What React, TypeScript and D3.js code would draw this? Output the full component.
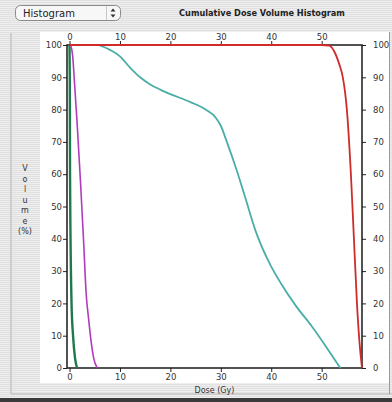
import React, { useEffect, useRef } from 'react';
import * as d3 from 'd3';

// dose (Gy) / volume (%) pairs, one pair of arrays per structure
const greenDose = [0, 0.05, 0.1, 0.2, 0.4, 0.7, 1.1, 1.5];
const greenVol = [100, 90, 60, 40, 20, 10, 3, 0];

const magentaDose = [0.2, 0.6, 1.0, 1.5, 2.2, 2.8, 3.3, 3.8, 4.3, 4.8, 5.5];
const magentaVol = [100, 97, 88, 76, 57, 39, 23, 15, 8, 3, 0];

const tealDose = [5.7, 8, 10, 12, 14, 16, 18, 20, 24, 27, 29, 30, 31.2, 33.2, 34.8, 37, 39.8, 42, 45, 48, 50.7, 53.7];
const tealVol = [100, 98.5, 96.5, 93, 90, 87.8, 86.2, 84.8, 82.3, 80, 77.5, 75, 70, 61, 53, 42, 32, 26, 19, 13, 7, 0];

const redDose = [0, 50, 51.5, 52.5, 53.5, 54.2, 55, 55.8, 56.4, 57, 57.5, 58];
const redVol = [100, 100, 99.8, 98, 94, 90, 80, 60, 40, 20, 8, 0];

const doseTicks = [0, 10, 20, 30, 40, 50];
const volumeTicks = [0, 10, 20, 30, 40, 50, 60, 70, 80, 90, 100];
const yLabelLetters = ['V', 'o', 'l', 'u', 'm', 'e', '(%)'];

const series = [
  { dose: greenDose, vol: greenVol, color: '#1e7a4c', width: 2.4 },
  { dose: magentaDose, vol: magentaVol, color: '#b03cbc', width: 1.6 },
  { dose: tealDose, vol: tealVol, color: '#4aaea6', width: 1.8 },
  { dose: redDose, vol: redVol, color: '#cf2b2b', width: 1.8 },
];

const W = 392;
const H = 402;
const plot = { left: 67, right: 362, top: 45, bottom: 368 };
const font = '"DejaVu Sans", Verdana, sans-serif';

export default function App() {
  const ref = useRef<SVGSVGElement | null>(null);

  useEffect(() => {
    if (!ref.current) return;
    const svg = d3.select(ref.current);
    svg.selectAll('*').remove();

    // pinstripe background
    const defs = svg.append('defs');
    const pat = defs.append('pattern')
      .attr('id', 'stripes')
      .attr('width', 4)
      .attr('height', 2)
      .attr('patternUnits', 'userSpaceOnUse');
    pat.append('rect').attr('width', 4).attr('height', 2).attr('fill', '#eeeeee');
    pat.append('rect').attr('width', 4).attr('height', 1).attr('fill', '#e0e0e0');

    svg.append('rect').attr('width', W).attr('height', H).attr('fill', 'url(#stripes)');

    // frame lines
    svg.append('path')
      .attr('d', `M11,33 V394 H${W}`)
      .attr('fill', 'none')
      .attr('stroke', '#b4b4b4');
    svg.append('rect').attr('x', 0).attr('y', 398).attr('width', W).attr('height', 4).attr('fill', '#3a3a3a');

    // white chart panel
    svg.append('rect')
      .attr('x', 40).attr('y', 32).attr('width', 349).attr('height', 351)
      .attr('fill', '#ffffff');
    svg.append('line')
      .attr('x1', 389.5).attr('x2', 389.5).attr('y1', 32).attr('y2', 394)
      .attr('stroke', '#9a9a9a');

    // header: popup button + title
    const btn = svg.append('g');
    btn.append('rect')
      .attr('x', 15.5).attr('y', 5.5).attr('width', 105).attr('height', 15).attr('rx', 5)
      .attr('fill', '#f7f7f7').attr('stroke', '#8a8a8a');
    btn.append('line')
      .attr('x1', 106.5).attr('x2', 106.5).attr('y1', 6).attr('y2', 20)
      .attr('stroke', '#c8c8c8');
    btn.append('text')
      .attr('x', 23).attr('y', 17)
      .attr('font-family', font).attr('font-size', 10).attr('fill', '#222')
      .text('Histogram');
    btn.append('path').attr('d', 'M110.5,11.5 l2.5,-3 l2.5,3 z').attr('fill', '#333');
    btn.append('path').attr('d', 'M110.5,14.5 l2.5,3 l2.5,-3 z').attr('fill', '#333');

    svg.append('text')
      .attr('x', 262).attr('y', 16)
      .attr('text-anchor', 'middle')
      .attr('font-family', font).attr('font-size', 8.2).attr('font-weight', 'bold').attr('fill', '#222')
      .text('Cumulative Dose Volume Histogram');

    const x = d3.scaleLinear().domain([-0.5, 58]).range([plot.left, plot.right]);
    const y = d3.scaleLinear().domain([0, 100]).range([plot.bottom, plot.top]);

    const styleAxis = (g: d3.Selection<SVGGElement, unknown, null, undefined>) => {
      g.select('.domain').remove();
      g.selectAll('line').attr('stroke', '#222');
      g.selectAll('text')
        .attr('font-family', font)
        .attr('font-size', 8.5)
        .attr('fill', '#333');
    };

    svg.append('g')
      .attr('transform', `translate(0,${plot.bottom})`)
      .call(d3.axisBottom(x).tickValues(doseTicks).tickSize(4).tickPadding(2).tickFormat(d3.format('d')))
      .call(styleAxis);
    svg.append('g')
      .attr('transform', `translate(0,${plot.top})`)
      .call(d3.axisTop(x).tickValues(doseTicks).tickSize(4).tickPadding(1).tickFormat(d3.format('d')))
      .call(styleAxis);
    svg.append('g')
      .attr('transform', `translate(${plot.left},0)`)
      .call(d3.axisLeft(y).tickValues(volumeTicks).tickSize(4).tickPadding(1).tickFormat(d3.format('d')))
      .call(styleAxis);
    svg.append('g')
      .attr('transform', `translate(${plot.right},0)`)
      .call(d3.axisRight(y).tickValues(volumeTicks).tickSize(4).tickPadding(7).tickFormat(d3.format('d')))
      .call(styleAxis);

    // axis frame
    svg.append('path')
      .attr('d', `M${plot.left},${plot.bottom} V${plot.top} H${plot.right} V${plot.bottom} Z`)
      .attr('fill', 'none')
      .attr('stroke', '#1a1a1a')
      .attr('stroke-width', 1.5);

    const line = d3.line<[number, number]>()
      .x(d => x(d[0]))
      .y(d => y(d[1]))
      .curve(d3.curveMonotoneX);

    series.forEach(s => {
      const pts = s.dose.map((d, i) => [d, s.vol[i]] as [number, number]);
      svg.append('path')
        .attr('d', line(pts))
        .attr('fill', 'none')
        .attr('stroke', s.color)
        .attr('stroke-width', s.width)
        .attr('stroke-linejoin', 'round');
    });

    // axis titles
    svg.append('text')
      .attr('x', (plot.left + plot.right) / 2).attr('y', 393)
      .attr('text-anchor', 'middle')
      .attr('font-family', font).attr('font-size', 8).attr('fill', '#333')
      .text('Dose (Gy)');

    svg.append('g')
      .selectAll('text')
      .data(yLabelLetters)
      .join('text')
      .attr('x', 25)
      .attr('y', (_, i) => 171 + i * 10.5)
      .attr('text-anchor', 'middle')
      .attr('font-family', font).attr('font-size', 8).attr('fill', '#333')
      .text(d => d);
  }, []);

  return (
    <svg
      ref={ref}
      width={W}
      height={H}
      style={{ position: 'absolute', left: 0, top: 0, display: 'block' }}
    />
  );
}
